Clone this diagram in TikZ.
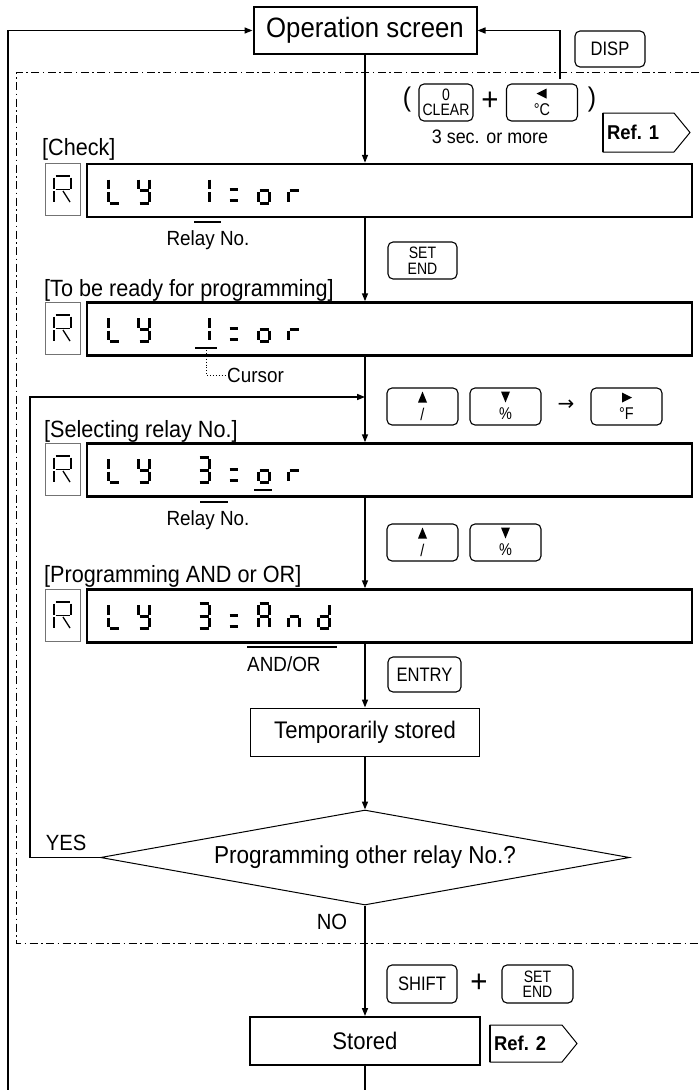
\documentclass[tikz,border=0pt]{standalone}
\usepackage{fontspec}
\setmainfont[FakeStretch=0.92]{Liberation Sans}
\newfontfamily\keyfont[FakeStretch=0.85]{Liberation Sans}
\newfontfamily\symfont{DejaVu Sans}
\usetikzlibrary{arrows.meta,shapes.geometric}
\newcommand\fsz[1]{\fontsize{#1}{#1}\selectfont}
\newcommand\sgA{\draw[seg] (2.5,1.5)--(11.5,1.5);}
\newcommand\sgB{\draw[seg] (12.5,3)--(12.5,12.5);}
\newcommand\sgC{\draw[seg] (12.5,15.5)--(12.5,25);}
\newcommand\sgD{\draw[seg] (2.5,26.5)--(11.5,26.5);}
\newcommand\sgE{\draw[seg] (1.5,15.5)--(1.5,25);}
\newcommand\sgF{\draw[seg] (1.5,3)--(1.5,12.5);}
\newcommand\sgG{\draw[seg] (2.5,14)--(11.5,14);}
\newcommand\sgEq{\draw[seg] (2.5,13)--(11,13); \draw[seg] (2.5,24)--(11,24);}
\newcommand\glyph[3]{\begin{scope}[shift={(#1,#2)}]#3\end{scope}}
\newcommand\gL{\sgF\sgE\sgD}
\newcommand\gY{\sgF\sgB\sgG\sgC\sgD}
\newcommand\gOne{\sgB\sgC}
\newcommand\gThree{\sgA\sgB\sgG\sgC\sgD}
\newcommand\go{\sgG\sgC\sgD\sgE}
\newcommand\gr{\sgG\sgE}
\newcommand\gA{\sgA\sgB\sgC\sgE\sgF\sgG}
\newcommand\gn{\sgG\sgC\sgE}
\newcommand\gd{\sgB\sgC\sgG\sgE\sgD}
\newcommand\rglyph[1]{\begin{scope}[shift={(54,#1)},line width=1.3pt]
 \draw (1.5,0)--(15.5,0); \draw (0,1.5)--(0,12.5); \draw (17,1.5)--(17,12.5);
 \draw (1.5,13.5)--(15.5,13.5); \draw (0,15)--(0,26); \draw (9,15)--(16,26);
 \end{scope}}
% arrow keys: name, cx, cy, label
\newcommand\upkey[4]{\node[key] (#1) at (#2,#3) {};
 \fill (#2-4.5,#3-4) -- (#2+4.5,#3-4) -- (#2,#3-15) -- cycle;
 \node[keytxt] (#1t) at (#2,#3+7.5) {#4};}
\newcommand\dnkey[4]{\node[key] (#1) at (#2,#3) {};
 \fill (#2-4.5,#3-15) -- (#2+4.5,#3-15) -- (#2,#3-4) -- cycle;
 \node[keytxt] (#1t) at (#2,#3+7.5) {#4};}
\newcommand\ltkey[4]{\node[key] (#1) at (#2,#3) {};
 \fill (#2+4.5,#3-14) -- (#2+4.5,#3-4) -- (#2-5.5,#3-9) -- cycle;
 \node[keytxt] (#1t) at (#2,#3+7.5) {#4};}
\newcommand\rtkey[4]{\node[key] (#1) at (#2,#3) {};
 \fill (#2-4.5,#3-14) -- (#2-4.5,#3-4) -- (#2+5.5,#3-9) -- cycle;
 \node[keytxt] (#1t) at (#2,#3+7.5) {#4};}
\begin{document}
\begin{tikzpicture}[x=1pt,y=-1pt,
 conn/.style={line width=1.5pt},
 arr/.style={conn,-{Triangle[length=8pt,width=6pt]}},
 lcd/.style={draw,line width=2.5pt,minimum width=605pt,minimum height=53pt,inner sep=0pt},
 rbox/.style={draw=black!55,line width=1pt,minimum width=35pt,minimum height=52pt,inner sep=0pt},
 key/.style={draw,rounded corners=5pt,line width=1.1pt,align=center,inner sep=0pt,
   minimum width=71pt,minimum height=37pt,font=\keyfont\fontsize{16.5}{15.5}\selectfont},
 keytxt/.style={inner sep=0pt,font=\keyfont\fsz{17}},
 seg/.style={line width=3pt},
 lbl/.style={inner sep=0pt,font=\fsz{23.5}},
 small/.style={inner sep=0pt,font=\fsz{20.5}}]
\useasboundingbox (0,0) rectangle (699,1090);

% frame
\draw[line width=1pt,dash pattern=on 8pt off 3.5pt on 1.5pt off 3.5pt]
  (699,72) -- (16,72) -- (16,943) -- (699,943);

% operation screen
\node[draw,line width=2pt,minimum width=223pt,minimum height=47pt,font=\fsz{28}] (op) at (365,30.5) {Operation screen};

% keys top
\node[key,minimum width=70pt,minimum height=36pt] (disp) at (610,49) {\fsz{19.5}DISP};
\node[inner sep=0pt,font=\fsz{27}] (lp) at (407,100) {(};
\node[key,minimum width=54pt] (clr) at (446,102.5) {0\\CLEAR};
\node[inner sep=0pt,font=\fsz{32}] (pl1) at (490,101) {+};
\ltkey{degc}{542}{102.5}{°C}
\node[inner sep=0pt,font=\fsz{27}] (rp) at (592,100) {)};
\node[inner sep=0pt,font=\fsz{19.5}] (sec) at (490,137) {3 sec. or more};
\draw[line width=1pt] (603,113) -- (674,113) -- (690,132.5) -- (674,152) -- (603,152) -- cycle;
\draw[line width=2pt] (603,113) -- (603,152);
\node[inner sep=0pt,anchor=west,font=\bfseries\fsz{20}] (ref1) at (607,132.5) {Ref. 1};

% displays
\node[lcd] (d1) at (389.5,190.5) {};
\node[lcd] (d2) at (389.5,329) {};
\node[lcd] (d3) at (389.5,470) {};
\node[lcd] (d4) at (389.5,616) {};
\node[rbox] (r1) at (62.5,189.5) {};
\node[rbox] (r2) at (62.5,328) {};
\node[rbox] (r3) at (62.5,469) {};
\node[rbox] (r4) at (62.5,615) {};
\rglyph{176}\rglyph{315}\rglyph{456}\rglyph{602}

% display 1
\glyph{107}{176.5}{\gL}\glyph{137}{176.5}{\gY}\glyph{197}{176.5}{\gOne}
\glyph{227}{176.5}{\sgEq}\glyph{257}{176.5}{\go}\glyph{287}{176.5}{\gr}
% display 2
\glyph{107}{315}{\gL}\glyph{137}{315}{\gY}\glyph{197}{315}{\gOne}
\glyph{227}{315}{\sgEq}\glyph{257}{315}{\go}\glyph{287}{315}{\gr}
\draw[line width=2.2pt] (195,348) -- (217,348);
% display 3
\glyph{107}{456}{\gL}\glyph{137}{456}{\gY}\glyph{197}{456}{\gThree}
\glyph{227}{456}{\sgEq}\glyph{257}{456}{\go}\glyph{287}{456}{\gr}
\draw[line width=2.2pt] (254,490) -- (272,490);
% display 4
\glyph{107}{602}{\gL}\glyph{137}{602}{\gY}\glyph{197}{602}{\gThree}
\glyph{227}{602}{\sgEq}\glyph{257}{602}{\gA}\glyph{287}{602}{\gn}\glyph{317}{602}{\gd}

% labels
\node[lbl,anchor=west] (lchk) at (42,149) {[Check]};
\node[lbl,anchor=west] (lrdy) at (44,290) {[To be ready for programming]};
\node[lbl,anchor=west] (lsel) at (44,431) {[Selecting relay No.]};
\node[lbl,anchor=west] (lprg) at (44,576) {[Programming AND or OR]};

\draw[line width=1.5pt] (194,222) -- (221,222);
\node[small] (rn1) at (208,240) {Relay No.};
\draw[line width=1.5pt] (200,502) -- (228,502);
\node[small] (rn3) at (208,520) {Relay No.};
\draw[line width=1.5pt] (247,647) -- (337,647);
\node[small,anchor=west] (andor) at (247,664) {AND/OR};
\coordinate (cu) at (206,350);
\node[small,anchor=west] (cur) at (227,375) {Cursor};
\draw[dotted,line width=0.9pt] (cu) |- (cur.west);

% keys middle
\node[key,minimum width=69pt] (se1) at (422.5,260.5) {SET\\END};
\upkey{up1}{422.5}{406.5}{/}
\dnkey{dn1}{505.5}{406.5}{\%}
\node[inner sep=0pt,font=\symfont\fsz{20}] (to) at (566,405) {→};
\rtkey{rt}{626.5}{406.5}{°F}
\upkey{up2}{422.5}{542.5}{/}
\dnkey{dn2}{505.5}{542.5}{\%}
\node[key,minimum width=73pt,minimum height=35pt] (ent) at (424.5,674.5) {\fsz{19.5}ENTRY};

% flow boxes
\node[draw,line width=1pt,minimum width=229pt,minimum height=48pt,font=\fsz{24}] (tmp) at (365,732) {Temporarily stored};
\node[diamond,draw,line width=1pt,aspect=5.57,minimum width=529pt,minimum height=95pt,inner sep=0pt,font=\fsz{24.5}] (dia) at (365,857.5) {Programming other relay No.?};
\node[draw,line width=2pt,minimum width=230pt,minimum height=48pt,font=\fsz{24}] (st) at (365,1041) {Stored};
\node[inner sep=0pt,font=\fsz{22}] (yes) at (66,843) {YES};
\node[inner sep=0pt,font=\fsz{22}] (no) at (332,922) {NO};

% bottom keys
\node[key,minimum width=70pt,minimum height=38pt] (shift) at (422,984) {\fsz{19.5}SHIFT};
\node[inner sep=0pt,font=\fsz{32}] (pl2) at (479,983) {+};
\node[key,minimum height=38pt] (se2) at (537.5,984) {SET\\END};
\draw[line width=1pt] (490,1025) -- (562,1025) -- (577,1043.5) -- (562,1062) -- (490,1062) -- cycle;
\draw[line width=2pt] (490,1025) -- (490,1062);
\node[inner sep=0pt,anchor=west,font=\bfseries\fsz{20}] (ref2) at (494,1043.5) {Ref. 2};

% connectors
\coordinate (rtn) at (560,79);
\coordinate (bl) at (8,1090);
\coordinate (bm) at (365,1090);
\coordinate (j) at (365,397);
\draw[arr] (op.south) -- (op.south |- d1.north);
\draw[arr] (op.south |- d1.south) -- (op.south |- d2.north);
\draw[arr] (op.south |- d2.south) -- (op.south |- d3.north);
\draw[arr] (op.south |- d3.south) -- (op.south |- d4.north);
\draw[arr] (op.south |- d4.south) -- (tmp.north);
\draw[arr] (tmp.south) -- (dia.north);
\draw[arr] (dia.south) -- (st.north);
\draw[conn] (st.south) -- (bm);
\draw[arr] (dia.west) -- ++(-70,0) |- (j);
\draw[arr] (rtn) |- (op.east);
\draw[arr] (bl) |- (op.west);
\end{tikzpicture}
\end{document}
